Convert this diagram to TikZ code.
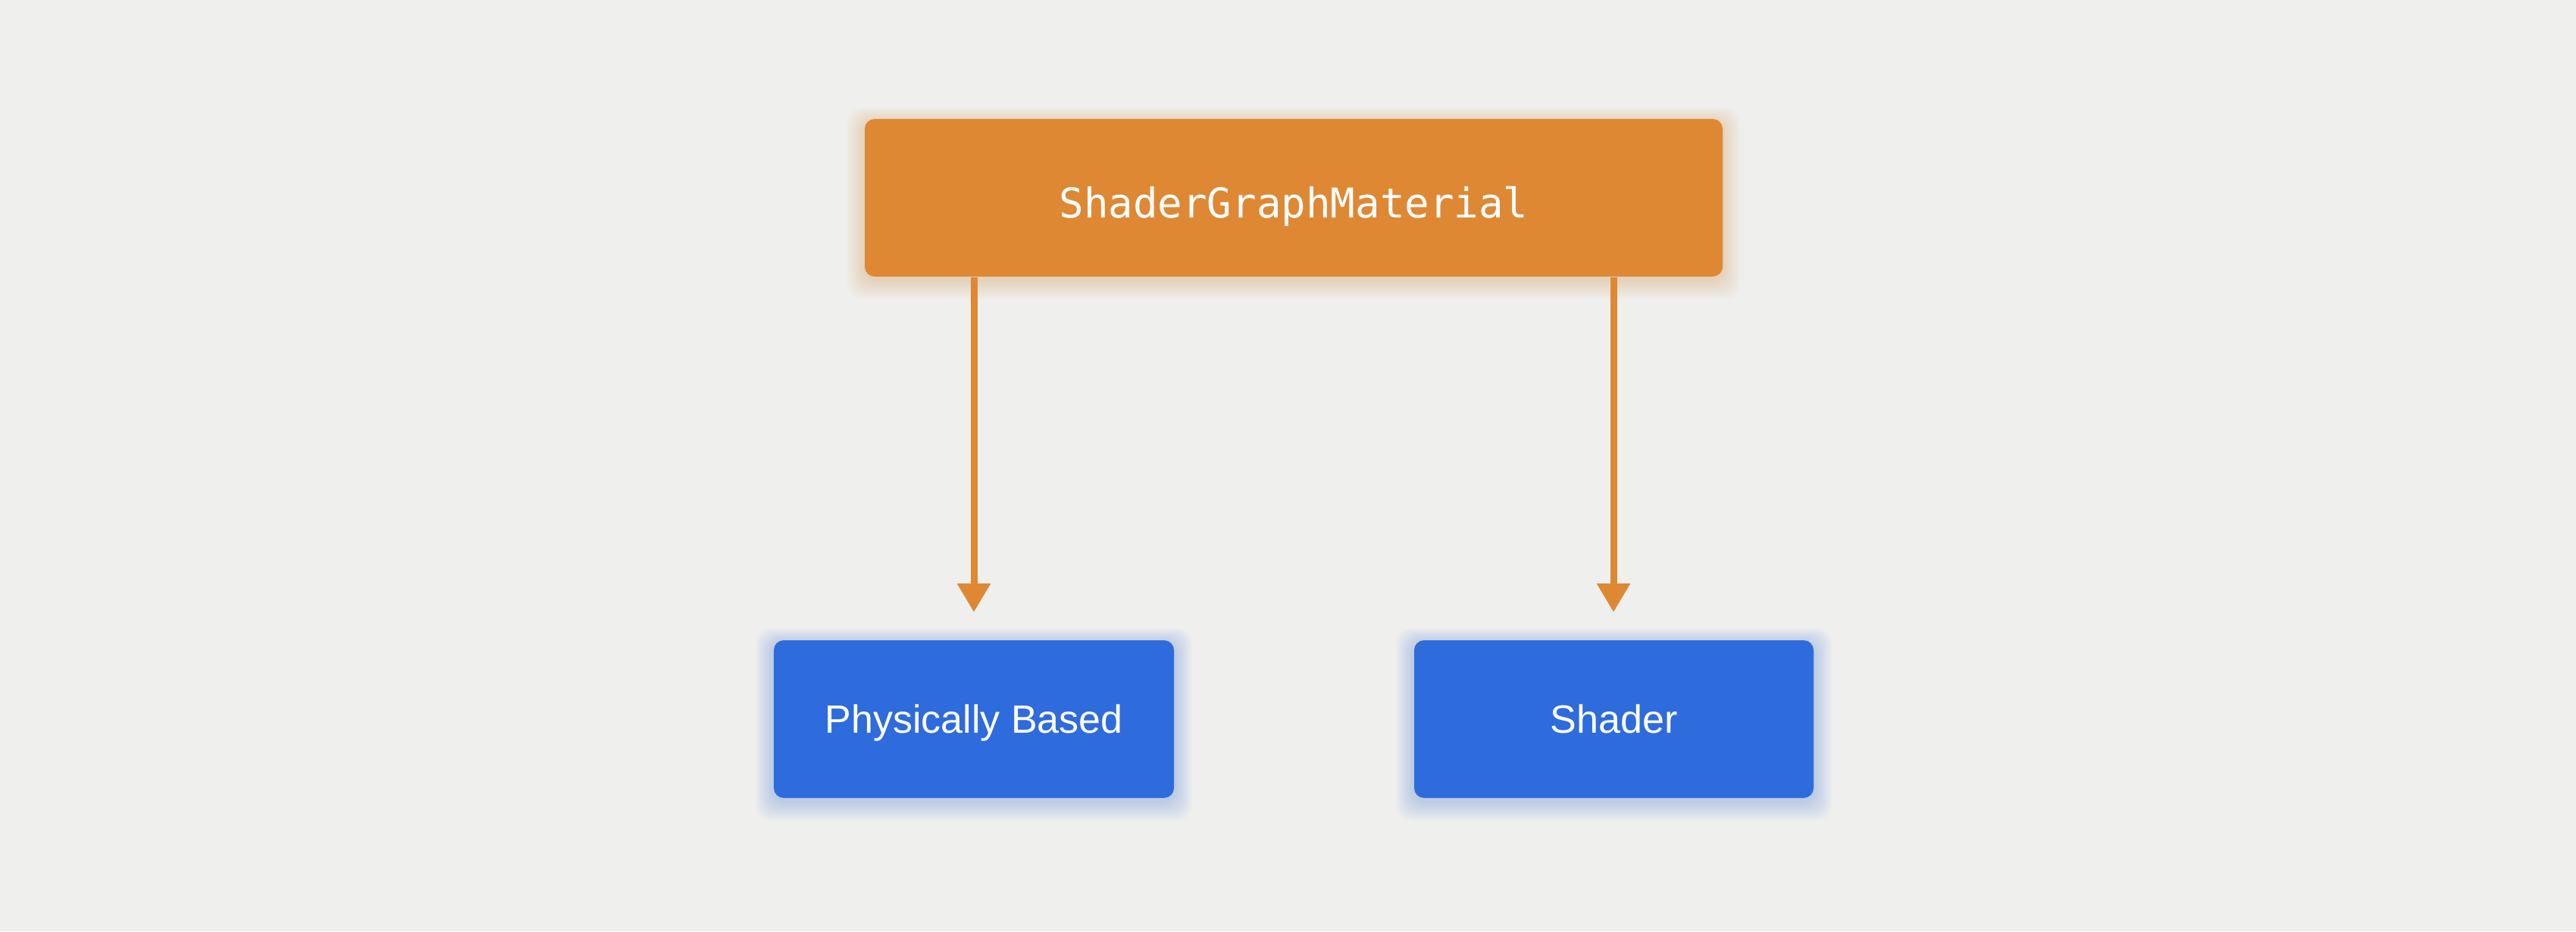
\documentclass[tikz,border=0pt]{standalone}
\usepackage{fontspec}
\setmainfont{Liberation Sans}
\newfontfamily\codefont{DejaVu Sans Mono}
\usetikzlibrary{arrows.meta,positioning}
\definecolor{bgc}{HTML}{EFF0EE}
\definecolor{orangebox}{HTML}{DF8833}
\definecolor{bluebox}{HTML}{2E6BDC}
\tikzset{
  boxbase/.style={rectangle, rounded corners=0.13cm, inner sep=0pt, text=white},
  topbox/.style={boxbase, fill=orangebox, minimum width=11.32cm, minimum height=2.08cm,
    text height=0.6cm, text depth=0.08cm, font=\codefont\fontsize{15.4}{18}\selectfont},
  leafbox/.style={boxbase, fill=bluebox, minimum width=5.28cm, minimum height=2.08cm,
    text height=0.42cm, text depth=0.06cm, font=\fontsize{14.8}{18}\selectfont},
  conn/.style={draw=orangebox, line width=0.09cm, -{Triangle[width=0.42cm,length=0.38cm]}}
}
\newcommand{\glowbox}[5]{% center x, center y, width, height, color
  \foreach \k in {1,...,10}{
    \fill[#5, opacity=0.028, rounded corners=0.2cm]
      ({#1-#3/2-\k*0.024},{#2-0.04-#4/2-\k*0.026}) rectangle ({#1+#3/2+\k*0.024},{#2-0.04+#4/2+\k*0.02});
  }
}
\begin{document}
\begin{tikzpicture}
\fill[bgc] (0,0) rectangle (33.99,-12.29);
\useasboundingbox (0,0) rectangle (33.99,-12.29);
\glowbox{17.07}{-2.61}{11.32}{2.08}{orangebox}
\glowbox{12.85}{-9.49}{5.28}{2.08}{bluebox}
\glowbox{21.295}{-9.49}{5.27}{2.08}{bluebox}
\node[topbox] (sgm) at (17.07,-2.61) {ShaderGraphMaterial};
\node[leafbox] (pb) at (12.85,-9.49) {Physically Based};
\node[leafbox, minimum width=5.27cm] (sh) at (21.295,-9.49) {Shader};
\coordinate (e1) at (12.85,-8.08);
\coordinate (e2) at (21.29,-8.08);
\draw[conn] (sgm.south -| e1) -- (e1);
\draw[conn] (sgm.south -| e2) -- (e2);
\end{tikzpicture}
\end{document}
